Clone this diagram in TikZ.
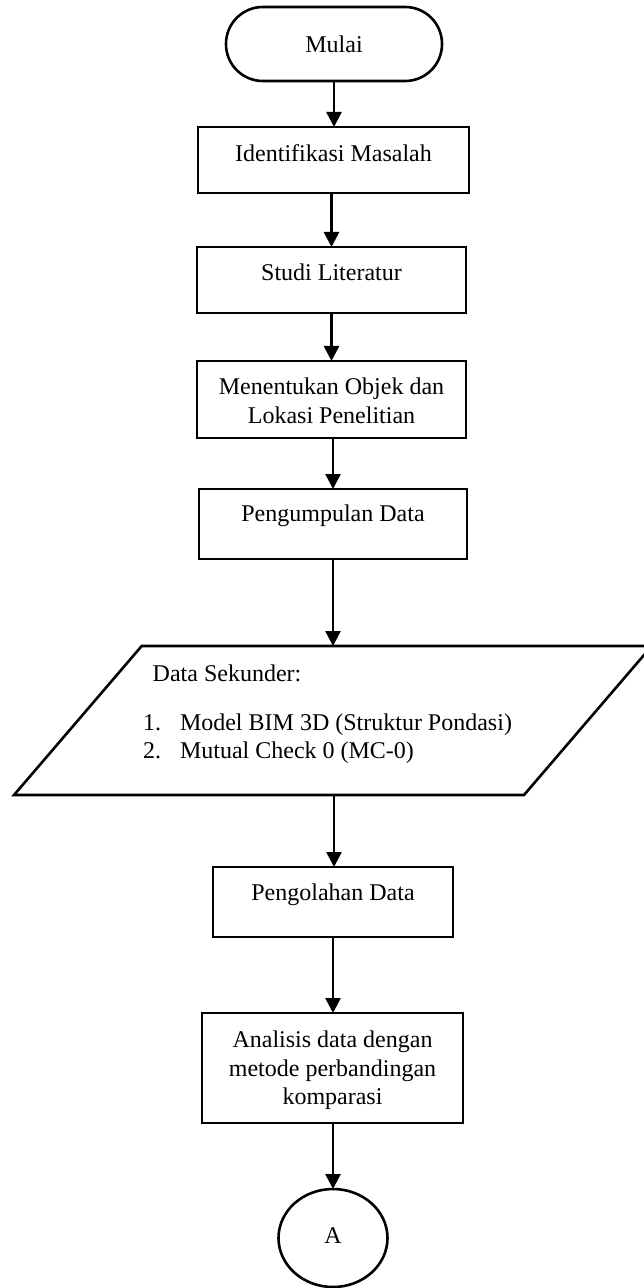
\documentclass[tikz,border=0pt]{standalone}
\usepackage{fontspec}
\setmainfont{Liberation Serif}
\usetikzlibrary{arrows.meta,shapes.geometric}
\tikzset{
  lw/.style={line width=1.3pt},
  box/.style={draw, lw, rectangle, inner sep=0pt, outer sep=0pt},
  term/.style={draw, lw, rectangle, rounded corners=18.4pt, inner sep=0pt, outer sep=0pt},
  conn/.style={draw, lw, ellipse, inner sep=0pt, outer sep=0pt},
  txt/.style={inner sep=0pt, outer sep=0pt, font=\fontsize{12}{14.4}\selectfont},
  arr/.style={lw, -{Triangle[length=7.5pt,width=7.5pt]}},
}
\begin{document}
\begin{tikzpicture}[x=0.5pt, y=-0.5pt]
\useasboundingbox[fill=white] (0,0) rectangle (643,1288);

% Terminal
\node[term, minimum width=108pt, minimum height=37pt] (mulai) at (334,44) {};
\node[txt, anchor=base] (mulaiT) at (334,53) {Mulai};

% Identifikasi Masalah
\node[box, minimum width=135.5pt, minimum height=33pt] (ident) at (333.5,160) {};
\node[txt, anchor=base] (identT) at (333.5,162) {Identifikasi Masalah};

% Studi Literatur
\node[box, minimum width=134.5pt, minimum height=33pt] (studi) at (331.5,280) {};
\node[txt, anchor=base] (studiT) at (331.5,280.5) {Studi Literatur};

% Menentukan
\node[box, minimum width=134.5pt, minimum height=38.5pt] (menent) at (331.5,399.5) {};
\node[txt, anchor=base] (menentT1) at (331.5,394) {Menentukan Objek dan};
\node[txt, anchor=base] (menentT2) at (331.5,423) {Lokasi Penelitian};

% Pengumpulan Data
\node[box, minimum width=134pt, minimum height=35pt] (kumpul) at (333,524) {};
\node[txt, anchor=base] (kumpulT) at (333,521.5) {Pengumpulan Data};

% Data Sekunder (parallelogram)
\coordinate (pTL) at (141.7,646);
\coordinate (pTR) at (651.7,646);
\coordinate (pBR) at (524,795);
\coordinate (pBL) at (14,795);
\draw[lw, line join=miter] (pTL) -- (pTR) -- (pBR) -- (pBL) -- cycle;
\coordinate (dataTop) at (333,646);
\coordinate (dataBot) at (334,795);
\node[txt, anchor=base west] (dataT) at (152.7,681) {Data Sekunder:};
\node[txt, anchor=base west] (n1) at (143,730) {1.};
\node[txt, anchor=base west] (i1) at (180,730) {Model BIM 3D (Struktur Pondasi)};
\node[txt, anchor=base west] (n2) at (143,758) {2.};
\node[txt, anchor=base west] (i2) at (180,758) {Mutual Check 0 (MC-0)};

% Pengolahan Data
\node[box, minimum width=120pt, minimum height=35pt] (olah) at (333,902) {};
\node[txt, anchor=base] (olahT) at (333,900) {Pengolahan Data};

% Analisis
\node[box, minimum width=130.5pt, minimum height=55pt] (anal) at (332.5,1068) {};
\node[txt, anchor=base] (analT1) at (332.5,1047) {Analisis data dengan};
\node[txt, anchor=base] (analT2) at (332.5,1076) {metode perbandingan};
\node[txt, anchor=base] (analT3) at (332.5,1104) {komparasi};

% Connector A
\node[conn, minimum width=54.5pt, minimum height=49pt] (A) at (333,1238) {};
\node[txt, anchor=base] (AT) at (333,1243) {A};

% Arrows
\draw[arr] (mulai.south) -- (mulai.south |- ident.north);
\draw[arr] (ident.south -| studi.north) -- (studi.north);
\draw[arr] (studi.south) -- (menent.north);
\draw[arr] (menent.south -| kumpul.north) -- (kumpul.north);
\draw[arr] (kumpul.south) -- (dataTop);
\draw[arr] (dataBot) -- (dataBot |- olah.north);
\draw[arr] (olah.south) -- (olah.south |- anal.north);
\draw[arr] (anal.south -| A.north) -- (A.north);
\end{tikzpicture}
\end{document}
